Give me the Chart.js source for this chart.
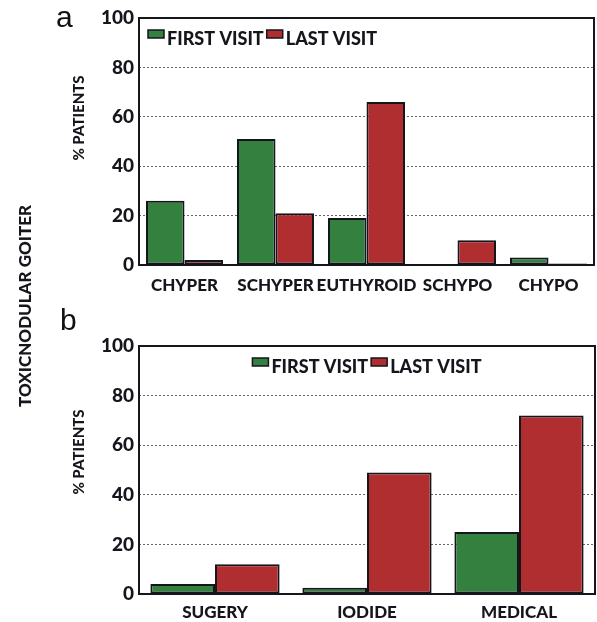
<!DOCTYPE html>
<html>
<head>
<meta charset="utf-8">
<script src="https://cdn.jsdelivr.net/npm/chart.js@4.4.0/dist/chart.umd.min.js"></script>
<style>
html, body { margin: 0; padding: 0; background: #fff; }
#wrap { position: relative; width: 597px; height: 622px; }
#wrap canvas { position: absolute; left: 0; top: 0; }
</style>
</head>
<body>
<div id="wrap">
  <canvas id="chartA" width="597" height="622"></canvas>
  <canvas id="chartB" width="597" height="622"></canvas>
</div>
<script>
// data
const seriesNames = ['FIRST VISIT', 'LAST VISIT'];
const statusLabels = ['CHYPER', 'SCHYPER', 'EUTHYROID', 'SCHYPO', 'CHYPO'];
const statusFirst = [26, 51, 19, 0, 3];
const statusLast = [2, 21, 66, 10, 0.6];
const treatLabels = ['SUGERY', 'IODIDE', 'MEDICAL'];
const treatFirst = [4, 2.5, 25];
const treatLast = [12, 49, 72];
const yTitle = '% PATIENTS';
const sideTitle = 'TOXICNODULAR GOITER';

const GREEN = '#33803f';
const RED = '#b02d30';
const INK = '#15151c';
const BOLD = 'Lato, "Open Sans", sans-serif';
const W = '900';

const panelDecor = {
    id: 'panelDecor',
    afterDraw(chart, args, opts) {
        const { ctx, chartArea: a } = chart;
        ctx.save();

        // plot frame
        ctx.strokeStyle = INK;
        ctx.lineWidth = 2;
        ctx.strokeRect(a.left, a.top, a.right - a.left, a.bottom - a.top);

        // legend, box sits at the top of the text line
        ctx.font = W + ' 18px ' + BOLD;
        ctx.textAlign = 'left';
        ctx.textBaseline = 'alphabetic';
        const sets = chart.data.datasets;
        const boxW = 16, boxH = 8, gap = 3;
        let total = 0;
        sets.forEach((d, i) => {
            total += boxW + gap + ctx.measureText(d.label).width + (i < sets.length - 1 ? gap : 0);
        });
        let x = opts.legendAlign === 'center' ? (a.left + a.right) / 2 - total / 2 : a.left + 9;
        const boxTop = a.top + 12;
        sets.forEach(d => {
            ctx.fillStyle = d.backgroundColor;
            ctx.fillRect(x, boxTop, boxW, boxH);
            ctx.lineWidth = 1.5;
            ctx.strokeStyle = INK;
            ctx.strokeRect(x, boxTop, boxW, boxH);
            x += boxW + gap;
            ctx.fillStyle = INK;
            ctx.fillText(d.label, x, a.top + 27);
            x += ctx.measureText(d.label).width + gap;
        });

        // panel letter
        ctx.fillStyle = '#111';
        ctx.font = '30px "Liberation Sans", Arial, sans-serif';
        ctx.fillText(opts.letter, opts.letterX, opts.letterY);

        // y title
        ctx.save();
        ctx.translate(opts.titleX, opts.titleY);
        ctx.rotate(-Math.PI / 2);
        ctx.textAlign = 'center';
        ctx.textBaseline = 'middle';
        ctx.font = W + ' 15px ' + BOLD;
        ctx.fillStyle = INK;
        ctx.fillText(yTitle, 0, 0);
        ctx.restore();

        if (opts.side) {
            ctx.save();
            ctx.translate(26, 306);
            ctx.rotate(-Math.PI / 2);
            ctx.textAlign = 'center';
            ctx.textBaseline = 'middle';
            ctx.font = W + ' 17px ' + BOLD;
            ctx.fillStyle = INK;
            ctx.fillText(sideTitle, 0, 0);
            ctx.restore();
        }
        ctx.restore();
    },
};

function makeChart(id, labels, first, last, cfg) {
    return new Chart(document.getElementById(id), {
        type: 'bar',
        data: {
            labels: labels,
            datasets: [
                { label: seriesNames[0], data: first, backgroundColor: GREEN },
                { label: seriesNames[1], data: last, backgroundColor: RED },
            ],
        },
        options: {
            responsive: false,
            animation: false,
            events: [],
            layout: { padding: cfg.padding },
            datasets: {
                bar: {
                    borderColor: INK,
                    borderWidth: 2,
                    borderSkipped: false,
                    categoryPercentage: cfg.catPct,
                    barPercentage: 1.0,
                },
            },
            plugins: {
                legend: { display: false },
                tooltip: { enabled: false },
                panelDecor: cfg.decor,
            },
            scales: {
                x: {
                    afterFit: s => { s.height = cfg.xHeight; },
                    grid: { display: false, drawTicks: false },
                    border: { display: false },
                    ticks: {
                        color: INK,
                        padding: cfg.xPad,
                        maxRotation: 0,
                        autoSkip: false,
                        font: { family: BOLD, size: 17, weight: W },
                    },
                },
                y: {
                    min: 0,
                    max: 100,
                    afterFit: s => { s.width = 139; },
                    grid: {
                        drawTicks: false,
                        color: c => (c.tick.value === 0 || c.tick.value === 100) ? 'rgba(0,0,0,0)' : '#666',
                        lineWidth: 1,
                    },
                    border: { display: false, dash: [2, 2] },
                    ticks: {
                        stepSize: 20,
                        color: INK,
                        padding: 5,
                        font: { family: BOLD, size: 19, weight: W },
                    },
                },
            },
        },
        plugins: [panelDecor],
    });
}

makeChart('chartA', statusLabels, statusFirst, statusLast, {
    padding: { top: 18, right: 3, bottom: 622 - 305, left: 0 },
    xHeight: 40,
    xPad: 10,
    catPct: 0.846,
    decor: { legendAlign: 'left', letter: 'a', letterX: 56, letterY: 27, titleX: 79, titleY: 118, side: true },
});

makeChart('chartB', treatLabels, treatFirst, treatLast, {
    padding: { top: 346, right: 2, bottom: 0, left: 0 },
    xHeight: 28,
    xPad: 8,
    catPct: 0.85,
    decor: { legendAlign: 'center', letter: 'b', letterX: 60, letterY: 330, titleX: 79, titleY: 452, side: false },
});
</script>
</body>
</html>
